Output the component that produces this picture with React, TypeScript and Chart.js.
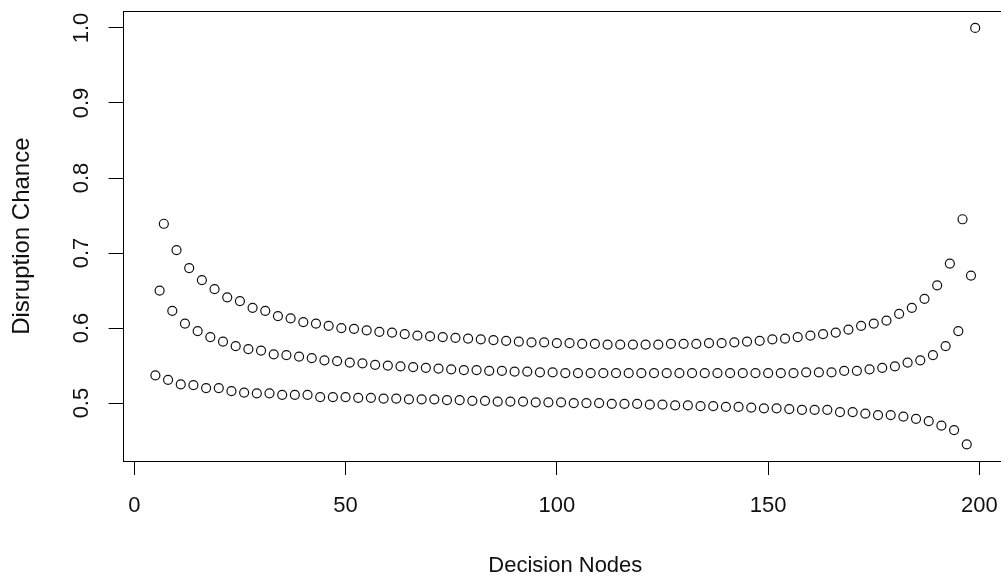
import React, { useEffect, useRef } from "react";
import { Chart, registerables } from "chart.js";

Chart.register(...registerables);

const xTickValues = [0, 50, 100, 150, 200];
const yTickValues = [0.5, 0.6, 0.7, 0.8, 0.9, 1.0];

const upperX = [7,10,13,16,19,22,25,28,31,34,37,40,43,46,49,52,55,58,61,64,67,70,73,76,79,82,85,88,91,94,97,100,103,106,109,112,115,118,121,124,127,130,133,136,139,142,145,148,151,154,157,160,163,166,169,172,175,178,181,184,187,190,193,196,199];
const upperY = [0.739,0.704,0.680,0.664,0.652,0.641,0.636,0.627,0.623,0.616,0.613,0.608,0.606,0.603,0.600,0.599,0.597,0.595,0.594,0.592,0.590,0.589,0.588,0.587,0.586,0.585,0.584,0.583,0.582,0.581,0.581,0.580,0.580,0.579,0.579,0.578,0.578,0.578,0.578,0.578,0.579,0.579,0.579,0.580,0.580,0.581,0.582,0.583,0.585,0.586,0.588,0.590,0.592,0.594,0.598,0.603,0.606,0.610,0.619,0.627,0.639,0.657,0.686,0.745,1.000];

const middleX = [6,9,12,15,18,21,24,27,30,33,36,39,42,45,48,51,54,57,60,63,66,69,72,75,78,81,84,87,90,93,96,99,102,105,108,111,114,117,120,123,126,129,132,135,138,141,144,147,150,153,156,159,162,165,168,171,174,177,180,183,186,189,192,195,198];
const middleY = [0.650,0.623,0.606,0.596,0.588,0.582,0.576,0.572,0.570,0.565,0.564,0.562,0.560,0.557,0.556,0.554,0.553,0.551,0.550,0.549,0.548,0.547,0.546,0.545,0.544,0.544,0.543,0.543,0.542,0.542,0.541,0.541,0.540,0.540,0.540,0.540,0.540,0.540,0.540,0.540,0.540,0.540,0.540,0.540,0.540,0.540,0.540,0.540,0.540,0.540,0.540,0.541,0.541,0.541,0.543,0.543,0.545,0.547,0.549,0.554,0.557,0.564,0.576,0.596,0.670];

const lowerX = [5,8,11,14,17,20,23,26,29,32,35,38,41,44,47,50,53,56,59,62,65,68,71,74,77,80,83,86,89,92,95,98,101,104,107,110,113,116,119,122,125,128,131,134,137,140,143,146,149,152,155,158,161,164,167,170,173,176,179,182,185,188,191,194,197];
const lowerY = [0.537,0.531,0.525,0.524,0.520,0.520,0.516,0.514,0.513,0.513,0.511,0.511,0.511,0.508,0.508,0.508,0.507,0.507,0.506,0.506,0.505,0.505,0.505,0.504,0.504,0.503,0.503,0.502,0.502,0.502,0.501,0.501,0.501,0.500,0.500,0.500,0.499,0.499,0.499,0.498,0.498,0.497,0.497,0.496,0.496,0.495,0.495,0.494,0.493,0.493,0.492,0.491,0.491,0.491,0.488,0.488,0.486,0.484,0.484,0.482,0.479,0.476,0.470,0.464,0.445];

const xTitle = "Decision Nodes";
const yTitle = "Disruption Chance";

const FONT = "'Liberation Sans', Arial, sans-serif";
const W = 1030;
const H = 600;

const toPoints = (xs: number[], ys: number[]) => xs.map((x, i) => ({ x, y: ys[i] }));

const boxPlugin = {
  id: "rbox",
  afterDraw(chart: any) {
    const { ctx, chartArea } = chart;
    const l = Math.round(chartArea.left) + 0.5;
    const t = Math.round(chartArea.top) + 0.5;
    const r = Math.round(chartArea.right) + 0.5;
    const b = Math.round(chartArea.bottom) + 0.5;
    ctx.save();
    ctx.strokeStyle = "#000";
    ctx.lineWidth = 1;
    ctx.strokeRect(l, t, r - l, b - t);
    ctx.restore();
  },
};

export default function App() {
  const ref = useRef<HTMLCanvasElement | null>(null);
  useEffect(() => {
    if (!ref.current) return;
    const pointStyle = {
      showLine: false,
      pointRadius: 4.5,
      pointBorderWidth: 1.2,
      pointBorderColor: "#111",
      pointBackgroundColor: "rgba(0,0,0,0)",
      pointHoverRadius: 4.5,
    };
    const chart = new Chart(ref.current, {
      type: "scatter",
      data: {
        datasets: [
          { label: "upper", data: toPoints(upperX, upperY), ...pointStyle },
          { label: "middle", data: toPoints(middleX, middleY), ...pointStyle },
          { label: "lower", data: toPoints(lowerX, lowerY), ...pointStyle },
        ],
      },
      options: {
        responsive: false,
        animation: false,
        devicePixelRatio: 1,
        layout: { padding: { left: 0, top: 11.3, right: W - 1008, bottom: 0 } },
        plugins: { legend: { display: false }, tooltip: { enabled: false } },
        scales: {
          x: {
            type: "linear",
            min: -2.76,
            max: 206.76,
            afterBuildTicks: (axis: any) => {
              axis.ticks = xTickValues.map((v) => ({ value: v }));
            },
            afterFit: (axis: any) => {
              axis.height = H - 461;
              axis.paddingLeft = 0;
              axis.paddingRight = 0;
            },
            grid: {
              display: true,
              drawOnChartArea: false,
              drawTicks: true,
              tickLength: 14,
              color: "#000",
              lineWidth: 1,
            },
            border: { display: false },
            ticks: {
              color: "#111",
              font: { family: FONT, size: 22 },
              padding: 18,
              maxRotation: 0,
              minRotation: 0,
              callback: (v: any) => String(v),
            },
            title: {
              display: true,
              text: xTitle,
              color: "#111",
              font: { family: FONT, size: 22, lineHeight: 1 },
              padding: { top: 0, bottom: 23 },
            },
          },
          y: {
            type: "linear",
            min: 0.4228,
            max: 1.0222,
            afterBuildTicks: (axis: any) => {
              axis.ticks = yTickValues.map((v) => ({ value: v }));
            },
            afterFit: (axis: any) => {
              axis.width = 122.6;
              axis.paddingTop = 0;
              axis.paddingBottom = 0;
            },
            grid: {
              display: true,
              drawOnChartArea: false,
              drawTicks: true,
              tickLength: 14,
              color: "#000",
              lineWidth: 1,
            },
            border: { display: false },
            ticks: {
              color: "#111",
              font: { family: FONT, size: 22 },
              padding: 11,
              minRotation: 90,
              maxRotation: 90,
              crossAlign: "center",
              callback: (v: any) => Number(v).toFixed(1),
            },
            title: {
              display: true,
              text: yTitle,
              color: "#111",
              font: { family: FONT, size: 24, lineHeight: 1 },
              padding: { top: 10, bottom: 0 },
            },
          },
        },
      },
      plugins: [boxPlugin],
    } as any);
    return () => chart.destroy();
  }, []);

  return (
    <div style={{ position: "fixed", left: 0, top: 0, width: W, height: H, background: "#fff" }}>
      <canvas ref={ref} width={W} height={H} style={{ display: "block", width: W, height: H }} />
    </div>
  );
}
